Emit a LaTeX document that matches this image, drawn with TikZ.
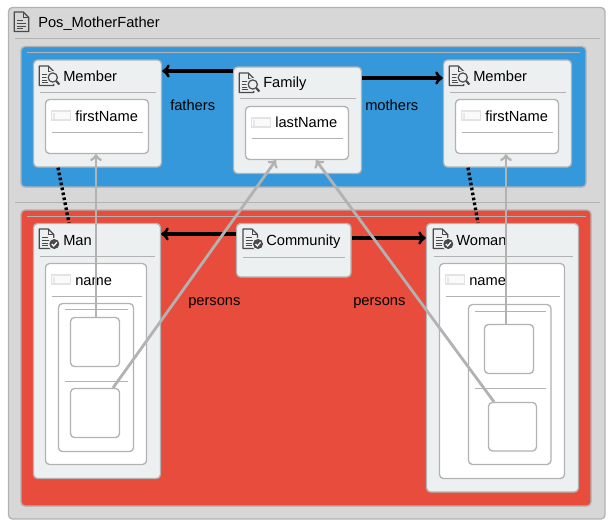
\documentclass[tikz,border=0pt]{standalone}
\usepackage{fontspec}
\setmainfont{Liberation Sans}
\usetikzlibrary{fit}
\definecolor{paneGrey}{HTML}{D7D7D7}
\definecolor{edgeGrey}{HTML}{B2B2B2}
\definecolor{paneBlue}{HTML}{3498DB}
\definecolor{paneRed}{HTML}{E74C3C}
\definecolor{boxGrey}{HTML}{ECF0F1}
\definecolor{iconDark}{HTML}{4A4A4A}
\tikzset{
  pane/.style={draw=edgeGrey, line width=1pt, rounded corners=3pt, inner sep=0pt},
  panel/.style={pane, fill=boxGrey},
  slot/.style={pane, fill=white},
  sep/.style={draw=edgeGrey, line width=0.8pt},
  lbl/.style={anchor=base west, inner sep=0pt, font=\fontsize{11pt}{13pt}\selectfont, text=black},
  ref/.style={->, black, line width=2.4pt},
  link/.style={->, edgeGrey, line width=2.1pt},
  tie/.style={black, line width=2.5pt, dash pattern=on 2pt off 1.8pt}
}
% document icon, top left corner at #1
\newcommand{\docicon}[1]{
  \begin{scope}[shift={(#1)}]
    \draw[iconDark, line width=0.9pt, line join=round] (0,0) -- (9,0) -- (14.5,5.5) -- (14.5,19.5) -- (0,19.5) -- cycle;
    \draw[iconDark, line width=0.7pt] (9,0) -- (9,5.5) -- (14.5,5.5);
    \foreach \ly/\lx in {8/9,11/11.5,14/11.5,16.5/9}
      \draw[iconDark, line width=0.7pt] (2.5,\ly) -- (\lx,\ly);
  \end{scope}
}
\newcommand{\lensicon}[1]{
  \docicon{#1}
  \begin{scope}[shift={(#1)}]
    \fill[boxGrey] (13.5,11.5) circle (6.5);
    \draw[iconDark, line width=0.9pt] (13.5,11.5) circle (4.6);
    \draw[iconDark, line width=1.6pt] (17,15) -- (20,18.5);
  \end{scope}
}
\newcommand{\checkicon}[1]{
  \docicon{#1}
  \begin{scope}[shift={(#1)}]
    \fill[boxGrey] (15,15) circle (6.2);
    \fill[iconDark] (15,15) circle (5);
    \draw[white, line width=0.9pt] (12.5,15) -- (14.4,17) -- (17.6,13.2);
  \end{scope}
}
\newcommand{\attricon}[1]{
  \begin{scope}[shift={(#1)}]
    \draw[black!11, fill=black!2, line width=0.9pt] (0,0) rectangle (19,9);
    \fill[black!9] (1.5,1.5) rectangle (3.5,7.5);
  \end{scope}
}
\begin{document}
\begin{tikzpicture}[x=0.75pt, y=-0.75pt]
  \useasboundingbox (0,0) rectangle (612,526);
  %outer package
  \node[pane, fill=paneGrey, fit={(8.5,7.5) (605,519)}] (pos) {};
  \docicon{14.3,12}
  \node[lbl] (posname) at (38,27.5) {Pos\_MotherFather};
  \draw[sep] (15,38.5) -- (600,38.5);
  \draw[sep] (15,202.5) -- (600,202.5);
  %the two coloured packages
  \node[pane, fill=paneBlue, fit={(21,46.5) (586,187)}] (source) {};
  \draw[sep] (27,52.5) -- (580,52.5);
  \node[pane, fill=paneRed, fit={(21,210) (591,506)}] (target) {};
  \draw[sep] (27,216.5) -- (586,216.5);
  %left member
  \node[panel, fit={(33.5,60) (161.5,167)}] (memberl) {};
  \lensicon{39.3,66}
  \node[lbl] (memberlname) at (63,81) {Member};
  \draw[sep] (39.5,92.5) -- (156,92.5);
  \node[slot, fit={(45.5,99.5) (148.5,153.5)}] (firstl) {};
  \attricon{51.5,111}
  \node[lbl] (firstlname) at (75,121) {firstName};
  \draw[sep] (51.5,132.5) -- (143,132.5);
  %family
  \node[panel, fit={(233.5,67) (361.5,173.5)}] (family) {};
  \lensicon{239.3,73}
  \node[lbl] (familyname) at (263,87) {Family};
  \draw[sep] (239.5,98.5) -- (356,98.5);
  \node[slot, fit={(245.5,106.5) (348.5,159.5)}] (last) {};
  \attricon{251.5,118}
  \node[lbl] (lastname) at (275,127) {lastName};
  \draw[sep] (251.5,138.5) -- (343,138.5);
  %right member
  \node[panel, fit={(443.5,60) (571.5,167)}] (memberr) {};
  \lensicon{449.3,66}
  \node[lbl] (memberrname) at (473,81) {Member};
  \draw[sep] (449.5,92.5) -- (566,92.5);
  \node[slot, fit={(455.5,99.5) (558.5,153.5)}] (firstr) {};
  \attricon{461.5,111}
  \node[lbl] (firstrname) at (485,121) {firstName};
  \draw[sep] (461.5,132.5) -- (553,132.5);
  %man
  \node[panel, fit={(33.5,223.5) (160.5,478.5)}] (man) {};
  \checkicon{39.3,229}
  \node[lbl] (manname) at (63,245) {Man};
  \draw[sep] (39.5,256.5) -- (155,256.5);
  \node[slot, fit={(45.5,263.5) (146.5,464.5)}] (nameman) {};
  \attricon{51.5,275}
  \node[lbl] (namemanname) at (75,285) {name};
  \draw[sep] (51.5,296.5) -- (141.5,296.5);
  \node[slot, fit={(58.5,303.5) (133.5,451.5)}] (setman) {};
  \draw[sep] (64.5,309.5) -- (128,309.5);
  \node[slot, fit={(70.5,317.5) (119.5,366.5)}] (mana) {};
  \draw[sep] (64.5,381.5) -- (128,381.5);
  \node[slot, fit={(70.5,388.5) (119.5,437.5)}] (manb) {};
  %community
  \node[panel, fit={(236.5,223.5) (351,277)}] (community) {};
  \checkicon{243,229}
  \node[lbl] (communityname) at (266,245) {Community};
  \draw[sep] (243,257.5) -- (345,257.5);
  %woman
  \node[panel, fit={(426.5,223.5) (578.5,492)}] (woman) {};
  \checkicon{433.3,229}
  \node[lbl] (womanname) at (456,245) {Woman};
  \draw[sep] (433.5,256.5) -- (573,256.5);
  \node[slot, fit={(439.5,263.5) (564.5,478.5)}] (namewoman) {};
  \attricon{445.5,275}
  \node[lbl] (namewomanname) at (469,285) {name};
  \draw[sep] (445.5,296.5) -- (559.5,296.5);
  \node[slot, fit={(468.5,304.5) (551,464.5)}] (setwoman) {};
  \draw[sep] (474.5,311.5) -- (546,311.5);
  \node[slot, fit={(484.5,324.5) (533.5,373.5)}] (womana) {};
  \draw[sep] (474.5,388.5) -- (546,388.5);
  \node[slot, fit={(488.5,402.5) (536.5,451)}] (womanb) {};
  %role labels
  \node[lbl] (fathers) at (170,110) {fathers};
  \node[lbl] (mothers) at (365,110) {mothers};
  \node[lbl] (personsl) at (188,305) {persons};
  \node[lbl] (personsr) at (353,305) {persons};
  %references
  \draw[ref] (family.west |- 0,71) -- (memberl.east |- 0,71);
  \draw[ref] (family.east |- 0,78) -- (memberr.west |- 0,78);
  \draw[ref] (community.west |- 0,234) -- (man.east |- 0,234);
  \draw[ref] (community.east |- 0,238) -- (woman.west |- 0,238);
  %constraints
  \draw[link] (mana.north -| 96,0) -- (firstl.south -| 96,0);
  \draw[link] (manb.north -| 113,0) -- (last.south -| 276,0);
  \draw[link] (womana.north -| 506,0) -- (firstr.south -| 506,0);
  \draw[link] (womanb.north -| 494,0) -- (last.south -| 316,0);
  %generalisations
  \draw[tie] (memberl.south -| 58,0) -- (man.north -| 69,0);
  \draw[tie] (memberr.south -| 468,0) -- (woman.north -| 478,0);
\end{tikzpicture}
\end{document}
